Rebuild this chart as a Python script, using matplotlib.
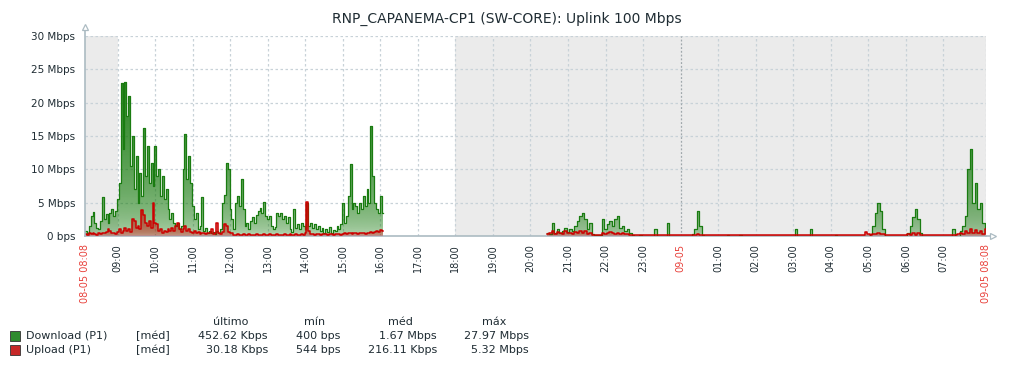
import numpy as np
import matplotlib.pyplot as plt
from matplotlib.colors import to_rgb
from matplotlib.patches import Rectangle

# minutes since 08-05 08:08, values in Mbps
day_start, day_step = 0, 3
night_start, night_step = 738, 4

dl_day = [0.8, 0.5, 1.5, 3.0, 3.6, 2.0, 1.2, 1.0, 2.2, 5.9,
          2.5, 3.3, 2.0, 3.5, 4.1, 3.0, 3.8, 5.5, 8.0, 23.0,
          13.0, 23.1, 18.0, 21.0, 10.5, 15.0, 7.0, 12.0, 5.0, 9.5,
          6.0, 16.2, 9.0, 13.5, 8.0, 11.0, 7.5, 13.5, 9.0, 10.0,
          6.0, 9.0, 5.5, 7.0, 4.0, 2.5, 3.5, 2.0, 1.5, 2.0,
          1.0, 1.5, 10.0, 15.3, 8.5, 12.0, 8.0, 4.5, 2.5, 3.5,
          1.0, 1.5, 5.8, 0.8, 1.2, 0.5, 0.8, 0.4, 0.6, 0.3,
          0.7, 0.5, 1.0, 5.0, 6.2, 11.0, 10.0, 4.0, 2.5, 1.0,
          5.0, 6.0, 4.5, 8.6, 4.0, 1.5, 2.0, 1.0, 2.2, 2.8,
          2.0, 3.2, 3.8, 4.2, 3.5, 5.1, 3.0, 2.5, 3.0, 1.5,
          1.0, 1.3, 3.5, 3.0, 3.5, 2.5, 3.0, 2.0, 2.8, 1.0,
          0.6, 4.0, 1.2, 1.8, 1.0, 2.0, 1.5, 1.0, 5.0, 1.5,
          2.0, 1.2, 1.8, 1.0, 1.5, 0.8, 1.2, 0.5, 1.0, 0.6,
          1.3, 0.5, 0.9, 0.7, 1.5, 1.0, 1.8, 4.9, 2.0, 3.0,
          6.0, 10.8, 4.0, 5.0, 4.5, 3.5, 5.0, 4.0, 6.0, 4.5,
          7.0, 5.0, 16.5, 9.0, 5.0, 4.0, 3.5, 6.0, 3.5]

ul_day = [0.3, 0.2, 0.4, 0.3, 0.5, 0.3, 0.2, 0.4, 0.3, 0.5,
          0.4, 0.6, 1.0, 0.8, 0.4, 0.5, 0.3, 0.6, 1.0, 0.5,
          0.8, 1.2, 0.7, 1.0, 0.6, 2.5, 2.2, 1.2, 1.5, 1.0,
          3.9, 3.2, 2.0, 1.5, 2.2, 1.2, 4.9, 2.0, 1.8, 0.8,
          1.0, 0.5, 0.7, 0.6, 1.0, 0.8, 1.2, 0.7, 1.5, 2.0,
          1.0, 0.6, 1.0, 1.5, 0.8, 1.0, 0.6, 0.5, 0.8, 0.4,
          0.6, 0.3, 0.5, 0.4, 0.3, 0.5, 0.4, 1.0, 0.3, 0.5,
          2.0, 0.4, 0.3, 0.6, 1.8, 1.5, 0.6, 0.4, 0.5, 0.2,
          0.2, 0.3, 0.2, 0.2, 0.3, 0.2, 0.2, 0.3, 0.2, 0.2,
          0.2, 0.3, 0.2, 0.2, 0.2, 0.3, 0.2, 0.2, 0.3, 0.2,
          0.2, 0.2, 0.3, 0.2, 0.2, 0.2, 0.3, 0.2, 0.2, 0.3,
          0.2, 0.2, 0.3, 0.2, 0.2, 0.3, 0.2, 0.4, 5.1, 0.8,
          0.3, 0.3, 0.2, 0.3, 0.3, 0.2, 0.3, 0.3, 0.3, 0.2,
          0.3, 0.3, 0.2, 0.3, 0.3, 0.3, 0.2, 0.3, 0.4, 0.3,
          0.4, 0.5, 0.3, 0.4, 0.5, 0.3, 0.4, 0.5, 0.4, 0.3,
          0.5, 0.4, 0.6, 0.5, 0.6, 0.8, 0.6, 0.9, 0.8]

dl_night = [0.5, 0.3, 2.0, 0.5, 1.0, 0.4, 0.8, 1.2, 0.6, 1.0,
            0.8, 1.5, 2.2, 3.0, 3.5, 2.5, 1.0, 2.0, 0.3, 0.1,
            0.2, 0.1, 2.5, 1.0, 1.8, 2.2, 1.5, 2.5, 3.0, 1.2,
            1.5, 0.8, 1.0, 0.5, 0.1, 0.0, 0.0, 0.1, 0.0, 0.0,
            0.0, 0.0, 0.0, 1.0, 0.0, 0.0, 0.0, 0.0, 2.0, 0.0,
            0.0, 0.0, 0.0, 0.0, 0.0, 0.0, 0.0, 0.0, 0.3, 1.0,
            3.8, 1.5, 0.2, 0.0, 0.0, 0.0, 0.0, 0.0, 0.0, 0.0,
            0.0, 0.0, 0.2, 0.0, 0.0, 0.0, 0.0, 0.2, 0.0, 0.0,
            0.0, 0.0, 0.0, 0.0, 0.0, 0.0, 0.0, 0.0, 0.0, 0.0,
            0.0, 0.0, 0.0, 0.0, 0.0, 0.0, 0.0, 0.0, 0.0, 1.0,
            0.0, 0.0, 0.0, 0.0, 0.0, 1.0, 0.0, 0.0, 0.0, 0.0,
            0.0, 0.0, 0.0, 0.0, 0.0, 0.2, 0.0, 0.0, 0.0, 0.0,
            0.0, 0.0, 0.0, 0.0, 0.0, 0.0, 0.0, 0.0, 0.0, 0.3,
            1.5, 3.5, 5.0, 3.8, 1.0, 0.0, 0.0, 0.0, 0.0, 0.0,
            0.0, 0.0, 0.0, 0.0, 0.5, 1.5, 2.8, 4.0, 2.5, 0.5,
            0.0, 0.0, 0.0, 0.0, 0.0, 0.0, 0.0, 0.0, 0.0, 0.0,
            0.0, 0.0, 1.0, 0.0, 0.0, 0.8, 1.5, 3.0, 10.0, 13.0,
            5.0, 8.0, 4.0, 5.0, 2.0, 1.0]

ul_night = [0.3, 0.5, 0.8, 0.3, 0.6, 0.4, 0.3, 0.7, 0.4, 0.5,
            0.3, 0.6, 0.4, 0.8, 0.5, 0.7, 0.3, 0.4, 0.2, 0.2,
            0.2, 0.2, 0.4, 0.3, 0.5, 0.6, 0.4, 0.3, 0.5, 0.3,
            0.4, 0.3, 0.3, 0.2, 0.2, 0.2, 0.2, 0.2, 0.2, 0.2,
            0.2, 0.2, 0.2, 0.2, 0.2, 0.2, 0.2, 0.2, 0.2, 0.2,
            0.2, 0.2, 0.2, 0.2, 0.2, 0.2, 0.2, 0.2, 0.2, 0.2,
            0.3, 0.2, 0.2, 0.2, 0.2, 0.2, 0.2, 0.2, 0.2, 0.2,
            0.2, 0.2, 0.2, 0.2, 0.2, 0.2, 0.2, 0.2, 0.2, 0.2,
            0.2, 0.2, 0.2, 0.2, 0.2, 0.2, 0.2, 0.2, 0.2, 0.2,
            0.2, 0.2, 0.2, 0.2, 0.2, 0.2, 0.2, 0.2, 0.2, 0.2,
            0.2, 0.2, 0.2, 0.2, 0.2, 0.2, 0.2, 0.2, 0.2, 0.2,
            0.2, 0.2, 0.2, 0.2, 0.2, 0.2, 0.2, 0.2, 0.2, 0.2,
            0.2, 0.2, 0.2, 0.2, 0.2, 0.2, 0.2, 0.6, 0.3, 0.2,
            0.3, 0.3, 0.4, 0.3, 0.3, 0.2, 0.2, 0.2, 0.2, 0.2,
            0.2, 0.2, 0.2, 0.2, 0.3, 0.2, 0.5, 0.2, 0.5, 0.2,
            0.2, 0.2, 0.2, 0.2, 0.2, 0.2, 0.2, 0.2, 0.2, 0.2,
            0.2, 0.2, 0.2, 0.2, 0.3, 0.4, 0.3, 0.8, 0.5, 1.0,
            0.4, 0.9, 0.5, 0.7, 0.3, 1.0]

hour_labels = ["09:00", "10:00", "11:00", "12:00", "13:00", "14:00", "15:00",
               "16:00", "17:00", "18:00", "19:00", "20:00", "21:00", "22:00",
               "23:00", "09-05", "01:00", "02:00", "03:00", "04:00", "05:00",
               "06:00", "07:00"]
y_ticks = [0, 5, 10, 15, 20, 25, 30]
y_labels = ["0 bps", "5 Mbps", "10 Mbps", "15 Mbps", "20 Mbps", "25 Mbps", "30 Mbps"]

title = "RNP_CAPANEMA-CP1 (SW-CORE): Uplink 100 Mbps"
series = ["Download (P1)", "Upload (P1)"]
stat_heads = ["último", "mín", "méd", "máx"]
stats = [["452.62 Kbps", "400 bps", "1.67 Mbps", "27.97 Mbps"],
         ["30.18 Kbps", "544 bps", "216.11 Kbps", "5.32 Mbps"]]

GREEN = "#1A7C11"
RED = "#CC0000"
TXT = "#1F2C33"
REDTXT = "#E8413B"
GRID = "#C8D2D8"

W, H = 1016, 368
fig = plt.figure(figsize=(W / 100, H / 100), dpi=100)
ax = fig.add_axes([85 / W, 1 - 236 / H, 901 / W, 200 / H])


def seg(start, step, vals):
    t = start + step * np.arange(len(vals) + 1)
    v = np.append(vals, vals[-1])
    return t, v


def grad_fill(t, v, color, a_bot, a_top, z):
    poly = ax.fill_between(t, 0, v, step='post', facecolor='none', edgecolor='none', lw=0)
    r, g, b = to_rgb(color)
    n = 256
    img = np.zeros((n, 1, 4))
    img[:, 0, 0], img[:, 0, 1], img[:, 0, 2] = r, g, b
    img[:, 0, 3] = a_bot + (a_top - a_bot) * np.linspace(0, 1, n) ** 0.42
    for p in poly.get_paths():
        im = ax.imshow(img, extent=[t[0], t[-1], 0, 30], origin='lower',
                       aspect='auto', zorder=z, interpolation='bilinear')
        im.set_clip_path(p, ax.transData)


# background: non working time
ax.axvspan(0, 52, color="#EBEBEB", lw=0, zorder=0)
ax.axvspan(592, 1440, color="#EBEBEB", lw=0, zorder=0)

# grid
for yv in y_ticks[1:]:
    ax.axhline(yv, color=GRID, lw=0.9, ls=(0, (2, 2)), zorder=1)
hour_pos = 52 + 60 * np.arange(len(hour_labels))
for hx, lab in zip(hour_pos, hour_labels):
    if lab == "09-05":
        ax.axvline(hx, color="#A0A8AC", lw=0.9, ls=(0, (1.5, 1.5)), zorder=1)
    else:
        ax.axvline(hx, color=GRID, lw=0.9, ls=(0, (2, 2)), zorder=1)
ax.axvline(1440, color=GRID, lw=0.9, ls=(0, (2, 2)), zorder=1)

for start, step, vals in [(day_start, day_step, dl_day), (night_start, night_step, dl_night)]:
    t, v = seg(start, step, vals)
    grad_fill(t, v, GREEN, 0.24, 1.0, 2)
    ax.step(t, v, where='post', color=GREEN, lw=0.9, zorder=3)
for start, step, vals in [(day_start, day_step, ul_day), (night_start, night_step, ul_night)]:
    t, v = seg(start, step, vals)
    grad_fill(t, v, RED, 0.25, 1.0, 4)
    ax.step(t, v, where='post', color=RED, lw=1.1, zorder=5)

ax.set_xlim(0, 1440)
ax.set_ylim(0, 30)

for s in ["top", "right", "left"]:
    ax.spines[s].set_visible(False)
ax.spines["bottom"].set_color("#ACBBC2")
ax.spines["bottom"].set_linewidth(1.2)
ax.plot([0, 0], [0, 1.04], transform=ax.transAxes, color="#ACBBC2", lw=1.2, clip_on=False, zorder=6)
ax.plot([1, 1.006], [0, 0], transform=ax.transAxes, color="#ACBBC2", lw=1.2, clip_on=False, zorder=6)
ax.plot([0], [1.045], marker='^', ms=5, mfc='white', mec="#ACBBC2", mew=0.9,
        transform=ax.transAxes, clip_on=False, zorder=7)
ax.plot([1.0075], [0], marker='>', ms=5, mfc='white', mec="#ACBBC2", mew=0.9,
        transform=ax.transAxes, clip_on=False, zorder=7)

ax.set_yticks(y_ticks)
ax.set_yticklabels(y_labels, fontsize=7.5, color=TXT)
ax.tick_params(axis='y', length=0, pad=7)

xt = [0] + list(hour_pos) + [1440]
xl = ["08-05 08:08"] + hour_labels + ["09-05 08:08"]
ax.set_xticks(xt)
ax.set_xticklabels(xl, rotation=90, fontsize=7, va='top', ha='center')
ax.tick_params(axis='x', length=0, pad=6)
for lab in ax.get_xticklabels():
    lab.set_color(REDTXT if "-" in lab.get_text() else TXT)

fig.text(507 / W, 1 - 19 / H, title, ha='center', va='center', fontsize=10, color=TXT)

# legend
face = ["#2E8B2E", "#C62828"]
head_x = [231, 315, 400, 494]
val_x = [268, 340, 437, 529]
for k, hx in enumerate(head_x):
    fig.text(hx / W, 1 - 322 / H, stat_heads[k], ha='center', va='center', fontsize=8, color=TXT)
for i, name in enumerate(series):
    yy = 336 + 14 * i
    fig.patches.append(Rectangle((10 / W, 1 - (yy + 5) / H), 10 / W, 10 / H,
                                 transform=fig.transFigure, facecolor=face[i],
                                 edgecolor="#333333", lw=0.6))
    fig.text(26 / W, 1 - yy / H, name, ha='left', va='center', fontsize=8, color=TXT)
    fig.text(136 / W, 1 - yy / H, "[méd]", ha='left', va='center', fontsize=8, color=TXT)
    for k, vx in enumerate(val_x):
        fig.text(vx / W, 1 - yy / H, stats[i][k], ha='right', va='center', fontsize=8, color=TXT)

fig.savefig("out.png", dpi=100, facecolor="white")
